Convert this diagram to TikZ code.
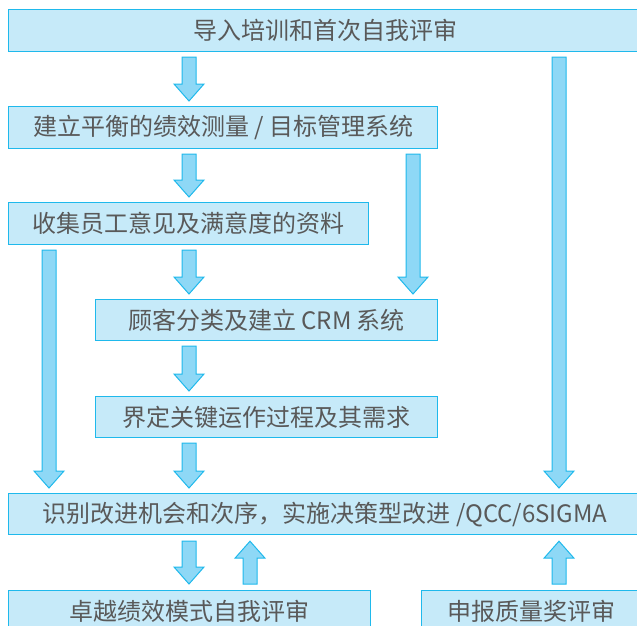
\documentclass[tikz,border=0pt]{standalone}
\usepackage{fontspec}
\setmainfont{Noto Sans CJK SC}
\usetikzlibrary{calc}

\definecolor{boxfill}{HTML}{C6EAF9}
\definecolor{boxline}{HTML}{1FB9EC}
\definecolor{arrowfill}{HTML}{8ED8F6}
\definecolor{textgray}{HTML}{595959}

\tikzset{
    stagebox/.style={draw=boxline, fill=boxfill, line width=1.2pt, text=textgray,
        font=\fontsize{24}{28}\selectfont, inner sep=0pt, anchor=north west},
    flowarrow/.style={draw=boxline, fill=arrowfill, line width=1pt, line join=miter}
}

\newcommand\blockarrow[2]{%
    \draw[flowarrow] let \p1=(#1), \p2=(#2), \n1={sign(\y2-\y1)*17pt} in
        (\x1-7pt,\y1) -- (\x1+7pt,\y1) -- (\x1+7pt,\y2-\n1) -- (\x1+15pt,\y2-\n1)
        -- (\x2,\y2) -- (\x1-15pt,\y2-\n1) -- (\x1-7pt,\y2-\n1) -- cycle;}

\begin{document}
\begin{tikzpicture}[x=1pt, y=-1pt]
        \useasboundingbox (0,0) rectangle (637,626);
        \clip (0,0) rectangle (637,626);

        \coordinate (colL) at (49,0);
        \coordinate (colM) at (189,0);
        \coordinate (colU) at (250,0);
        \coordinate (colR) at (413,0);
        \coordinate (colF) at (559,0);

        \node[stagebox, minimum width=633pt, minimum height=42pt] (intro) at (8,9) {导入培训和首次自我评审};
        \node[stagebox, minimum width=429pt, minimum height=42pt] (balance) at (8,106) {建立平衡的绩效测量 / 目标管理系统};
        \node[stagebox, minimum width=360pt, minimum height=42pt] (survey) at (8,202) {收集员工意见及满意度的资料};
        \node[stagebox, minimum width=342pt, minimum height=41pt] (crm) at (95,299) {顾客分类及建立 CRM 系统};
        \node[stagebox, minimum width=342pt, minimum height=41pt] (process) at (95,396) {界定关键运作过程及其需求};
        \node[stagebox, minimum width=633pt, minimum height=41pt] (improve) at (8,493) {识别改进机会和次序，实施决策型改进 /QCC/6SIGMA};
        \node[stagebox, minimum width=362pt, minimum height=42pt] (selfeval) at (8,590) {卓越绩效模式自我评审};
        \node[stagebox, minimum width=220pt, minimum height=42pt] (award) at (421,590) {申报质量奖评审};

        \blockarrow{$(intro.south -| colM)+(0,5)$}{$(balance.north -| colM)+(0,-5)$}
        \blockarrow{$(balance.south -| colM)+(0,5)$}{$(survey.north -| colM)+(0,-5)$}
        \blockarrow{$(survey.south -| colM)+(0,5)$}{$(crm.north -| colM)+(0,-5)$}
        \blockarrow{$(crm.south -| colM)+(0,5)$}{$(process.north -| colM)+(0,-5)$}
        \blockarrow{$(process.south -| colM)+(0,5)$}{$(improve.north -| colM)+(0,-5)$}

        \blockarrow{$(intro.south -| colF)+(0,5)$}{$(improve.north -| colF)+(0,-5)$}
        \blockarrow{$(balance.south -| colR)+(0,5)$}{$(crm.north -| colR)+(0,-5)$}
        \blockarrow{$(survey.south -| colL)+(0,5)$}{$(improve.north -| colL)+(0,-5)$}

        \blockarrow{$(improve.south -| colM)+(0,6)$}{$(selfeval.north -| colM)+(0,-6)$}
        \blockarrow{$(selfeval.north -| colU)+(0,-6)$}{$(improve.south -| colU)+(0,6)$}
        \blockarrow{$(award.north -| colF)+(0,-6)$}{$(improve.south -| colF)+(0,6)$}
\end{tikzpicture}
\end{document}
